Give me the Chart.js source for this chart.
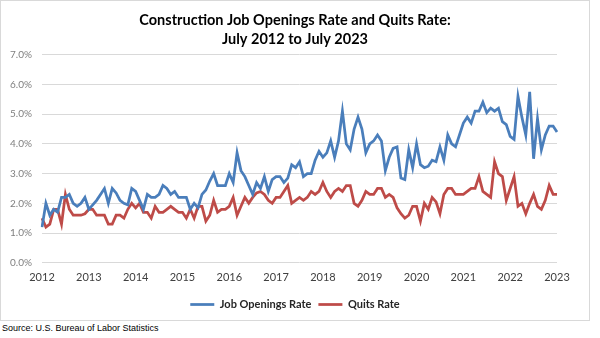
<!DOCTYPE html>
<html>
<head>
<meta charset="utf-8">
<script src="https://cdn.jsdelivr.net/npm/chart.js@4"></script>
<style>
  body { margin: 0; background: #fff; width: 600px; height: 338px; overflow: hidden; position: relative; }
  #box { position: absolute; left: 0; top: 0; width: 590px; height: 321px; border: 1px solid #d9d9d9; box-sizing: border-box; }
  #source { position: absolute; left: 2px; top: 323px; font: 9px "Liberation Sans", Arial, sans-serif; color: #000; }
</style>
</head>
<body>
<div id="box"><canvas id="chart" width="588" height="319"></canvas></div>
<div id="source">Source: U.S. Bureau of Labor Statistics</div>
<script>
// x axis: monthly points, one year label every 12 months
const yearLabels = ['2012','2013','2014','2015','2016','2017','2018','2019','2020','2021','2022','2023'];

// Job openings rate (%), monthly
const jobOpenings = [
  1.2, 2.0, 1.6, 1.8, 1.7, 2.2, 2.2, 2.3, 2.0, 1.9, 2.0, 2.2,
  1.8, 1.95, 2.1, 2.3, 2.5, 2.0, 2.5, 2.35, 2.1, 2.0, 1.95, 2.5,
  2.4, 2.1, 1.8, 2.3, 2.2, 2.2, 2.3, 2.6, 2.5, 2.3, 2.4, 2.2,
  2.2, 2.2, 1.8, 2.0, 1.85, 2.3, 2.45, 2.75, 3.0, 2.6, 2.6, 2.6,
  3.0, 2.7, 3.7, 3.1, 2.9, 2.6, 2.3, 2.7, 2.5, 2.9, 2.4, 2.8,
  2.9, 2.9, 2.7, 2.85, 3.3, 3.2, 3.4, 2.9, 3.0, 3.0, 3.45, 3.75,
  3.55, 3.7, 4.1, 3.55, 4.1, 5.1, 4.0, 3.8, 4.5, 4.9, 4.5, 3.7,
  4.0, 4.1, 4.3, 4.1, 3.1, 3.55, 3.85, 3.9, 2.85, 2.8, 3.8, 3.2,
  4.0, 3.3, 3.2, 3.25, 3.45, 3.4, 3.9, 3.45, 4.3, 4.0, 3.9, 4.3,
  4.7, 4.9, 4.7, 5.1, 5.1, 5.4, 5.05, 5.2, 5.1, 5.2, 4.75, 4.65,
  4.25, 4.15, 5.6, 4.9, 4.3, 5.75, 3.5, 4.85, 3.8, 4.3, 4.6, 4.6,
  4.4
];

// Quits rate (%), monthly
const quits = [
  1.5, 1.2, 1.3, 1.8, 1.8, 1.3, 2.3, 1.8, 1.6, 1.6, 1.6, 1.65,
  1.8, 1.8, 1.6, 1.6, 1.6, 1.3, 1.3, 1.6, 1.6, 1.5, 1.8, 2.0,
  1.85, 2.0, 1.7, 1.7, 1.5, 1.9, 1.7, 1.7, 1.8, 1.9, 1.8, 1.7,
  1.7, 1.5, 1.8, 1.5, 1.9, 1.9, 1.4, 1.6, 2.1, 1.7, 1.8, 1.8,
  1.9, 2.2, 1.6, 1.9, 2.2, 2.0, 2.2, 2.35, 2.4, 2.3, 2.1, 2.0,
  2.2, 2.2, 2.4, 2.6, 2.0, 2.1, 2.2, 2.1, 2.2, 2.4, 2.3, 2.4,
  2.7, 2.4, 2.2, 2.4, 2.5, 2.4, 2.6, 2.6, 2.0, 1.9, 2.1, 2.4,
  2.3, 2.3, 2.5, 2.5, 2.2, 2.3, 2.2, 1.85, 1.65, 1.5, 1.6, 1.9,
  1.9, 1.4, 2.0, 1.8, 2.2, 2.05, 1.65, 2.3, 2.5, 2.5, 2.3, 2.3,
  2.3, 2.4, 2.5, 2.5, 2.9, 2.4, 2.3, 2.2, 3.4, 3.0, 2.9, 2.1,
  2.5, 2.9, 1.9, 2.0, 1.65, 2.0, 2.3, 1.9, 1.8, 2.1, 2.6, 2.3,
  2.3
];

// category labels: year name every 12th month, blank otherwise
const labels = jobOpenings.map((v, i) => i % 12 === 0 ? yearLabels[i / 12] : '');

const ctx = document.getElementById('chart').getContext('2d');

new Chart(ctx, {
  type: 'line',
  data: {
    labels: labels,
    datasets: [
      {
        label: 'Job Openings Rate',
        data: jobOpenings,
        borderColor: '#4a7ebb',
        backgroundColor: '#4a7ebb',
        borderWidth: 2.75,
        pointRadius: 0,
        pointStyle: 'line',
        tension: 0
      },
      {
        label: 'Quits Rate',
        data: quits,
        borderColor: '#be4b48',
        backgroundColor: '#be4b48',
        borderWidth: 2.75,
        pointRadius: 0,
        pointStyle: 'line',
        tension: 0
      }
    ]
  },
  options: {
    responsive: false,
    animation: false,
    layout: { padding: 0 },
    plugins: {
      title: {
        display: true,
        text: ['Construction Job Openings Rate and Quits Rate:', 'July 2012 to July 2023'],
        color: '#000',
        font: { family: 'Lato', size: 14.5, weight: 'bold', lineHeight: 1.3 },
        padding: { top: 10, bottom: 6 }
      },
      legend: {
        position: 'bottom',
        labels: {
          usePointStyle: true,
          pointStyle: 'line',
          pointStyleWidth: 24,
          color: '#262626',
          font: { family: 'Lato', size: 11, weight: 'bold' },
          padding: 7
        }
      },
      tooltip: { enabled: false }
    },
    scales: {
      x: {
        grid: { display: false, drawTicks: false },
        border: { display: false },
        ticks: {
          autoSkip: false,
          maxRotation: 0,
          padding: 8,
          color: '#404040',
          font: { family: 'Lato', size: 11 }
        }
      },
      y: {
        min: 0,
        max: 7,
        afterFit: s => { s.width = 41; },
        grid: { color: '#d9d9d9', drawTicks: false },
        border: { display: false },
        ticks: {
          stepSize: 1,
          padding: 10,
          color: '#7f7f7f',
          font: { family: 'Lato', size: 10 },
          callback: v => v.toFixed(1) + '%'
        }
      },
      // empty right-hand axis, only reserves the blank margin right of the plot
      right: {
        position: 'right',
        afterFit: s => { s.width = 32; },
        grid: { display: false, drawTicks: false },
        border: { display: false },
        ticks: { display: false }
      }
    }
  }
});
</script>
</body>
</html>
